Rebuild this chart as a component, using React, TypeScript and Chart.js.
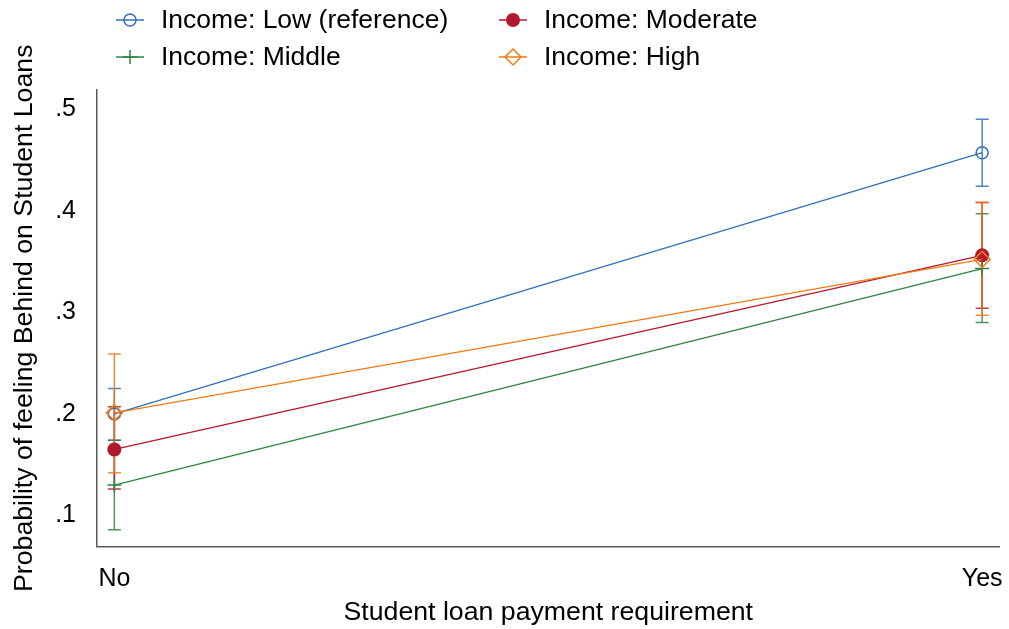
import { useEffect, useRef } from "react";
import { Chart, registerables } from "chart.js";

Chart.register(...registerables);

// Categories on the x axis (0 = No, 1 = Yes)
const categories = ["No", "Yes"];
const yTicks = [0.1, 0.2, 0.3, 0.4, 0.5];

// Predicted probabilities with 95% confidence bounds, by income group
const lowMean = [0.2, 0.457];
const lowLower = [0.174, 0.424];
const lowUpper = [0.225, 0.49];

const middleMean = [0.13, 0.343];
const middleLower = [0.086, 0.29];
const middleUpper = [0.174, 0.397];

const moderateMean = [0.165, 0.356];
const moderateLower = [0.126, 0.304];
const moderateUpper = [0.207, 0.408];

const highMean = [0.201, 0.352];
const highLower = [0.142, 0.297];
const highUpper = [0.259, 0.408];

const FONT = "'Liberation Sans', Arial, Helvetica, sans-serif";

type Series = {
  label: string;
  color: string;
  mean: number[];
  lower: number[];
  upper: number[];
  marker: "hollowCircle" | "plus" | "filledCircle" | "diamond";
  order: number;
};

const series: Series[] = [
  { label: "Income: Low (reference)", color: "#3170b6", mean: lowMean, lower: lowLower, upper: lowUpper, marker: "hollowCircle", order: 4 },
  { label: "Income: Middle", color: "#2e8444", mean: middleMean, lower: middleLower, upper: middleUpper, marker: "plus", order: 3 },
  { label: "Income: Moderate", color: "#b3192e", mean: moderateMean, lower: moderateLower, upper: moderateUpper, marker: "filledCircle", order: 2 },
  { label: "Income: High", color: "#ef7b17", mean: highMean, lower: highLower, upper: highUpper, marker: "diamond", order: 1 },
];

function drawMarker(ctx: CanvasRenderingContext2D, kind: Series["marker"], x: number, y: number, color: string) {
  ctx.save();
  ctx.strokeStyle = color;
  ctx.fillStyle = color;
  ctx.lineWidth = 1.5;
  ctx.beginPath();
  if (kind === "hollowCircle") {
    ctx.arc(x, y, 6, 0, Math.PI * 2);
    ctx.stroke();
  } else if (kind === "filledCircle") {
    ctx.arc(x, y, 7, 0, Math.PI * 2);
    ctx.fill();
  } else if (kind === "plus") {
    ctx.moveTo(x - 7, y);
    ctx.lineTo(x + 7, y);
    ctx.moveTo(x, y - 7);
    ctx.lineTo(x, y + 7);
    ctx.stroke();
  } else {
    ctx.moveTo(x, y - 8);
    ctx.lineTo(x + 8, y);
    ctx.lineTo(x, y + 8);
    ctx.lineTo(x - 8, y);
    ctx.closePath();
    ctx.stroke();
  }
  ctx.restore();
}

// Vertical confidence-interval whiskers with caps, drawn under the lines
const errorBarPlugin = {
  id: "errorBars",
  beforeDatasetsDraw(chart: any) {
    const { ctx } = chart;
    const xs = chart.scales.x;
    const ys = chart.scales.y;
    const drawOrder = [...series].sort((a, b) => b.order - a.order);
    ctx.save();
    for (const s of drawOrder) {
      ctx.strokeStyle = s.color;
      ctx.globalAlpha = 0.85;
      ctx.lineWidth = 1.5;
      for (let i = 0; i < categories.length; i++) {
        const px = xs.getPixelForValue(i);
        const top = ys.getPixelForValue(s.upper[i]);
        const bot = ys.getPixelForValue(s.lower[i]);
        ctx.beginPath();
        ctx.moveTo(px, top);
        ctx.lineTo(px, bot);
        ctx.moveTo(px - 6.5, top);
        ctx.lineTo(px + 6.5, top);
        ctx.moveTo(px - 6.5, bot);
        ctx.lineTo(px + 6.5, bot);
        ctx.stroke();
      }
    }
    ctx.restore();
  },
};

// Category labels under the x axis, centred on each category's position
const categoryLabelPlugin = {
  id: "categoryLabels",
  afterDraw(chart: any) {
    const { ctx, chartArea } = chart;
    const xs = chart.scales.x;
    ctx.save();
    ctx.fillStyle = "#000";
    ctx.font = `25px ${FONT}`;
    ctx.textAlign = "center";
    ctx.textBaseline = "alphabetic";
    categories.forEach((c, i) => {
      ctx.fillText(c, xs.getPixelForValue(i), chartArea.bottom + 39.5);
    });
    ctx.restore();
  },
};

// Two-column legend above the plot
const legendPlugin = {
  id: "twoColumnLegend",
  afterDraw(chart: any) {
    const { ctx } = chart;
    const layout = [
      { s: series[0], cx: 130, ty: 20 },
      { s: series[2], cx: 513, ty: 20 },
      { s: series[1], cx: 130, ty: 57 },
      { s: series[3], cx: 513, ty: 57 },
    ];
    ctx.save();
    for (const item of layout) {
      ctx.strokeStyle = item.s.color;
      ctx.lineWidth = 1.5;
      ctx.beginPath();
      ctx.moveTo(item.cx - 14, item.ty);
      ctx.lineTo(item.cx + 14, item.ty);
      ctx.stroke();
      drawMarker(ctx, item.s.marker, item.cx, item.ty, item.s.color);
      ctx.fillStyle = "#000";
      ctx.font = `26.5px ${FONT}`;
      ctx.textBaseline = "middle";
      ctx.textAlign = "left";
      ctx.fillText(item.s.label, item.cx + 31, item.ty + 1);
    }
    ctx.restore();
  },
};

export default function App() {
  const canvasRef = useRef<HTMLCanvasElement | null>(null);

  useEffect(() => {
    const canvas = canvasRef.current;
    if (!canvas) return;

    const pointStyle = (m: Series["marker"]) =>
      m === "plus" ? "cross" : m === "diamond" ? "rectRot" : "circle";

    const chart = new Chart(canvas, {
      type: "line",
      data: {
        datasets: series.map((s) => ({
          label: s.label,
          data: s.mean.map((v, i) => ({ x: i, y: v })),
          borderColor: s.color,
          borderWidth: 1.3,
          backgroundColor: s.marker === "filledCircle" ? s.color : "rgba(0,0,0,0)",
          pointBorderColor: s.color,
          pointBackgroundColor: s.marker === "filledCircle" ? s.color : "rgba(0,0,0,0)",
          pointStyle: pointStyle(s.marker) as any,
          pointRadius: s.marker === "hollowCircle" ? 6 : s.marker === "diamond" ? 8 : 7,
          pointBorderWidth: s.marker === "filledCircle" ? 0 : 1.5,
          fill: false,
          tension: 0,
          order: s.order,
        })),
      },
      plugins: [errorBarPlugin, categoryLabelPlugin, legendPlugin],
      options: {
        responsive: false,
        animation: false,
        events: [],
        layout: { padding: { top: 90, right: 7, left: 0, bottom: 0 } },
        plugins: {
          legend: { display: false },
          tooltip: { enabled: false },
        },
        scales: {
          x: {
            type: "linear",
            min: -0.02,
            max: 1.02,
            afterBuildTicks: (scale: any) => {
              scale.ticks = categories.map((_, i) => ({ value: i }));
            },
            afterFit: (scale: any) => {
              scale.height = 82.5;
            },
            grid: { display: false, drawTicks: false },
            border: { display: true, color: "#5a5a5a", width: 1.5 },
            ticks: { display: false },
            title: {
              display: true,
              text: "Student loan payment requirement",
              color: "#000",
              font: { family: FONT, size: 26.7 },
              padding: { top: 0, bottom: 0 },
            },
          },
          y: {
            type: "linear",
            min: 0.0695,
            max: 0.5187,
            afterBuildTicks: (scale: any) => {
              scale.ticks = yTicks.map((v) => ({ value: v }));
            },
            afterFit: (scale: any) => {
              scale.width = 97;
            },
            grid: { display: false, drawTicks: false },
            border: { display: true, color: "#5a5a5a", width: 1.5 },
            ticks: {
              padding: 21,
              color: "#000",
              font: { family: FONT, size: 25 },
              callback: (v: any) => String(Number(v).toFixed(1)).replace(/^0/, ""),
            },
            title: {
              display: true,
              text: "Probability of feeling Behind on Student Loans",
              color: "#000",
              font: { family: FONT, size: 26.7 },
              padding: { top: 9, bottom: 0 },
            },
          },
        },
      },
    });

    return () => chart.destroy();
  }, []);

  return (
    <div style={{ position: "fixed", left: 0, top: 0, width: 1009, height: 629, background: "#fff" }}>
      <canvas ref={canvasRef} width={1009} height={629} style={{ display: "block" }} />
    </div>
  );
}
